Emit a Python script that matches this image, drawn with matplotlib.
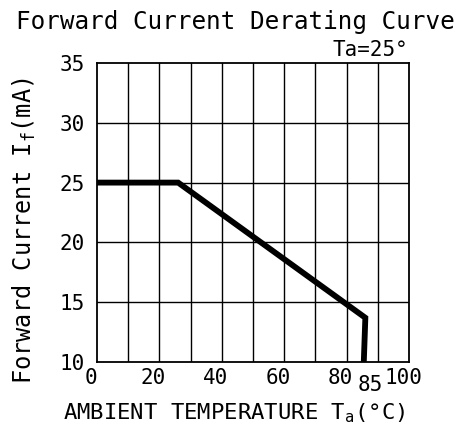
import matplotlib
matplotlib.use("Agg")
import matplotlib.pyplot as plt
from matplotlib.transforms import ScaledTranslation

plt.rcParams['font.family'] = 'DejaVu Sans Mono'
plt.rcParams['mathtext.fontset'] = 'dejavusans'

# Derating curve data (ambient temperature in C, forward current in mA)
temp = [0, 26, 86, 85.5]
current = [25, 25, 13.7, 10]

x_ticks = [0, 20, 40, 60, 80, 100]
y_ticks = [10, 15, 20, 25, 30, 35]

fig = plt.figure(figsize=(4.68, 4.30), dpi=100)
ax = fig.add_axes([0.2073, 0.1581, 0.6667, 0.6954])

# grid every 10 C / 5 mA
for x in range(10, 100, 10):
    ax.axvline(x, color='black', lw=1.0, zorder=1)
for y in [15, 20, 25, 30]:
    ax.axhline(y, color='black', lw=1.0, zorder=1)

ax.plot(temp, current, color='black', lw=4.2, solid_joinstyle='miter', zorder=3)

ax.set_xlim(0, 100)
ax.set_ylim(10, 35)
ax.set_xticks(x_ticks)
ax.set_yticks(y_ticks)
ax.tick_params(length=0, labelsize=15, pad=4)
ax.tick_params(axis='y', pad=9)
for spine in ax.spines.values():
    spine.set_linewidth(1.3)

# shift x tick labels a little left, as in the original print
for lbl in ax.get_xticklabels():
    lbl.set_transform(lbl.get_transform() + ScaledTranslation(-0.06, 0, fig.dpi_scale_trans))

ax.text(87.5, -0.045, '85', transform=ax.get_xaxis_transform(), ha='center', va='top', fontsize=15)

fig.text(0.502, 0.949, 'Forward Current Derating Curve', ha='center', va='center', fontsize=17.5)
fig.text(0.872, 0.884, 'Ta=25°', ha='right', va='center', fontsize=15)
fig.text(0.052, 0.463, 'Forward Current I$_\\mathregular{f}$(mA)', rotation=90, ha='center', va='center', fontsize=17)
fig.text(0.5, 0.04, 'AMBIENT TEMPERATURE T$_\\mathregular{a}$(°C)', ha='center', va='center', fontsize=16)

fig.savefig('out.png', dpi=100)
